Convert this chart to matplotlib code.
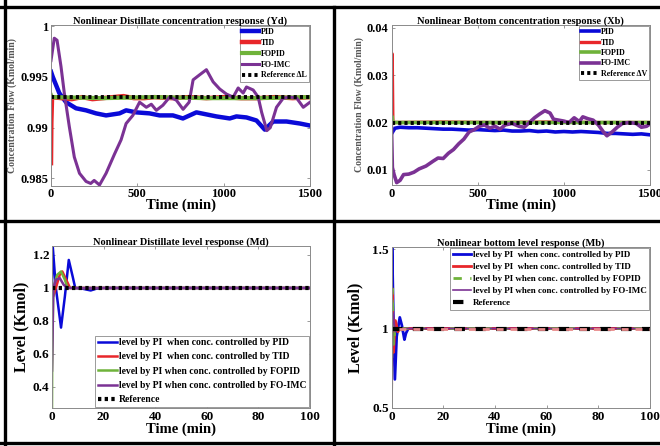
import matplotlib
matplotlib.use("Agg")
import matplotlib.pyplot as plt
from matplotlib.lines import Line2D
from matplotlib.ticker import FuncFormatter

plt.rcParams['font.family'] = ['Liberation Serif', 'DejaVu Serif']
plt.rcParams['font.weight'] = 'bold'

# ---------------- data: distillate concentration (Yd) ----------------
yd_pid_t = [0, 10, 48, 87, 145, 203, 261, 319, 397, 435, 493, 571, 629, 706, 764, 842, 900,
            958, 1035, 1074, 1132, 1190, 1238, 1287, 1364, 1442, 1500]
yd_pid_v = [0.9955, 0.9950, 0.9934, 0.9925, 0.9919, 0.9917, 0.9914, 0.9912, 0.9914, 0.9917,
            0.9915, 0.9914, 0.9912, 0.9912, 0.9909, 0.9915, 0.9913, 0.9911, 0.9909, 0.9911,
            0.9910, 0.9907, 0.9898, 0.9906, 0.9906, 0.9904, 0.9902]
yd_tid_t = [0, 2, 6, 60, 120, 180, 240, 300, 360, 420, 480, 540, 600, 700, 800, 900, 1000,
            1100, 1200, 1300, 1400, 1500]
yd_tid_v = [0.9865, 0.9905, 0.9930, 0.9929, 0.9928, 0.9930, 0.9928, 0.9929, 0.9930, 0.9931,
            0.9929, 0.9929, 0.9930, 0.9929, 0.9930, 0.9929, 0.9930, 0.9929, 0.9929, 0.9930,
            0.9929, 0.9930]
yd_fopid_t = [0, 5, 300, 600, 900, 1200, 1500]
yd_fopid_v = [0.9932, 0.9930, 0.9929, 0.9930, 0.9929, 0.9929, 0.9930]
yd_imc_t = [0, 19, 35, 58, 77, 106, 135, 165, 203, 230, 250, 281, 319, 368, 406, 435, 474,
            513, 552, 581, 610, 648, 687, 726, 765, 800, 823, 861, 900, 939, 977, 1016, 1055,
            1084, 1113, 1132, 1171, 1200, 1220, 1250, 1270, 1306, 1345, 1384, 1423, 1461, 1500]
yd_imc_v = [0.9966, 0.9988, 0.9986, 0.9960, 0.9934, 0.9901, 0.9871, 0.9855, 0.9847, 0.9845,
            0.9848, 0.98435, 0.9855, 0.9874, 0.9888, 0.9904, 0.9912, 0.9925, 0.9920, 0.9923,
            0.9917, 0.9922, 0.9930, 0.9927, 0.9918, 0.9925, 0.9947, 0.9952, 0.9957, 0.9945,
            0.9938, 0.9933, 0.9930, 0.9939, 0.9934, 0.9940, 0.9937, 0.9930, 0.9915, 0.9897,
            0.9900, 0.9920, 0.9929, 0.9930, 0.9929, 0.9920, 0.9925]
yd_ref = 0.993

# ---------------- data: bottom concentration (Xb) ----------------
xb_pid_t = [3, 20, 50, 100, 150, 200, 250, 300, 350, 400, 450, 500, 550, 600, 650, 700, 750,
            800, 850, 900, 950, 1000, 1050, 1100, 1150, 1200, 1250, 1300, 1350, 1400, 1450, 1500]
xb_pid_v = [0.0178, 0.0188, 0.0190, 0.0189, 0.0189, 0.0188, 0.0187, 0.0186, 0.0186, 0.0185,
            0.0184, 0.0185, 0.0184, 0.0183, 0.0184, 0.0182, 0.0182, 0.0183, 0.0181, 0.0182,
            0.0180, 0.0181, 0.0180, 0.0181, 0.0180, 0.0179, 0.0177, 0.0177, 0.0176, 0.0175,
            0.0176, 0.0174]
xb_tid_t = [0, 1, 4, 8, 300, 600, 900, 1200, 1500]
xb_tid_v = [0.0200, 0.0345, 0.0345, 0.0200, 0.0201, 0.0200, 0.0201, 0.0200, 0.0200]
xb_fopid_t = [0, 3, 8, 500, 1000, 1500]
xb_fopid_v = [0.0205, 0.0213, 0.0200, 0.0200, 0.0200, 0.0200]
xb_imc_t = [0, 5, 15, 30, 50, 70, 100, 130, 160, 200, 240, 270, 300, 330, 360, 390, 420, 450,
            480, 510, 540, 570, 600, 630, 660, 700, 740, 770, 800, 830, 860, 890, 920, 940,
            970, 1000, 1030, 1060, 1090, 1110, 1140, 1170, 1200, 1230, 1250, 1280, 1310, 1340,
            1380, 1420, 1450, 1480, 1500]
xb_imc_v = [0.0190, 0.0105, 0.0090, 0.0073, 0.0078, 0.0090, 0.0091, 0.0095, 0.0102, 0.0108,
            0.0118, 0.0125, 0.0124, 0.0135, 0.0143, 0.0155, 0.0165, 0.0180, 0.0185, 0.0192,
            0.0195, 0.0188, 0.0192, 0.0186, 0.0195, 0.0198, 0.0192, 0.0190, 0.0200, 0.0210,
            0.0218, 0.0225, 0.0220, 0.0207, 0.0205, 0.0203, 0.0200, 0.0210, 0.0202, 0.0212,
            0.0208, 0.0205, 0.0195, 0.0180, 0.0172, 0.0180, 0.0190, 0.0198, 0.0200, 0.0198,
            0.0190, 0.0192, 0.0197]
xb_ref = 0.02

# ---------------- data: distillate level (Md) ----------------
md_pid_t = [0, 0.3, 1.5, 3.5, 5, 6.5, 8, 9, 12, 15, 17, 20, 100]
md_pid_v = [1.0, 1.25, 1.0, 0.76, 0.95, 1.17, 1.07, 1.0, 0.995, 0.985, 0.995, 1.0, 1.0]
md_tid_t = [0, 0.5, 1.5, 3, 4, 5.5, 7, 100]
md_tid_v = [1.0, 0.95, 1.0, 1.08, 1.1, 1.05, 1.0, 1.0]
md_fopid_t = [0, 0.05, 0.5, 2, 3.5, 5, 6, 100]
md_fopid_v = [0.27, 0.5, 1.0, 1.08, 1.1, 1.05, 1.0, 1.0]
md_imc_t = [0, 0.5, 1.5, 3, 4.5, 6, 100]
md_imc_v = [0.5, 1.0, 1.05, 1.06, 1.02, 1.0, 1.0]
md_ref = 1.0

# ---------------- data: bottom level (Mb) ----------------
mb_pid_t = [0, 0.2, 0.7, 1.3, 2, 2.5, 3.2, 4, 5, 5.6, 6.5, 100]
mb_pid_v = [1.0, 1.55, 1.1, 0.68, 0.95, 1.0, 1.07, 1.02, 0.93, 0.97, 1.0, 1.0]
mb_tid_t = [0, 0.3, 0.8, 1.5, 2.5, 3, 100]
mb_tid_v = [0.5, 1.25, 0.85, 1.05, 0.98, 1.0, 1.0]
mb_fopid_t = [0, 0.3, 0.8, 1.5, 3, 100]
mb_fopid_v = [0.5, 1.25, 0.9, 1.02, 1.0, 1.0]
mb_imc_t = [0, 0.5, 1.5, 3, 100]
mb_imc_v = [0.5, 1.1, 0.98, 1.0, 1.0]
mb_ref = 1.0

lvl_labels = ["level by PI  when conc. controlled by PID",
              "level by PI  when conc. controlled by TID",
              "level by PI when conc. controlled by FOPID",
              "level by PI when conc. controlled by FO-IMC",
              "Reference"]

BLUE = '#0a0ad8'
RED = '#e8262a'
GREEN = '#6fb33a'
PURPLE = '#7b3294'
GRAY = '#8a8a8a'

W, H = 660, 446
fig = plt.figure(figsize=(6.6, 4.46), dpi=100)


def box(l, r, t, b):
    return [l / W, 1 - b / H, (r - l) / W, (b - t) / H]


def style(ax, xt, yt, xl, yl, tsize=9):
    ax.set_xlim(*xl)
    ax.set_ylim(*yl)
    ax.set_xticks(xt)
    ax.set_yticks(yt)
    ax.yaxis.set_major_formatter(FuncFormatter(lambda v, p: f"{v:g}"))
    ax.tick_params(direction='in', length=2.5, width=0.6, color=GRAY,
                   labelsize=tsize, top=True, right=True, pad=2)
    for s in ax.spines.values():
        s.set_color(GRAY)
        s.set_linewidth(0.7)
    for lab in ax.get_xticklabels() + ax.get_yticklabels():
        lab.set_fontweight('bold')


def legend(ax, handles, labels, loc, size, hl=2.2, sp=0.25):
    lg = ax.legend(handles, labels, loc=loc, fontsize=size, fancybox=False, framealpha=1,
                   edgecolor=GRAY, borderpad=0.25, labelspacing=sp, handlelength=hl,
                   handletextpad=0.2, borderaxespad=0.15)
    lg.get_frame().set_linewidth(0.6)
    return lg


# ---- top left ----
ax1 = fig.add_axes(box(51, 310, 25, 185.5))
ax1.plot(yd_pid_t, yd_pid_v, color=BLUE, lw=3.2)
ax1.plot(yd_tid_t, yd_tid_v, color=RED, lw=3.2)
ax1.plot(yd_fopid_t, yd_fopid_v, color=GREEN, lw=3.0)
ax1.plot(yd_imc_t, yd_imc_v, color=PURPLE, lw=2.2)
ax1.plot([0, 1500], [yd_ref, yd_ref], color='black', lw=2.8, ls=(0, (0.8, 0.8)))
style(ax1, [0, 500, 1000, 1500], [0.985, 0.99, 0.995, 1], (0, 1500), (0.9843, 1.0001))
ax1.set_title("Nonlinear Distillate concentration response (Yd)", fontsize=7.5,
              fontweight='bold', pad=1)
ax1.set_xlabel("Time (min)", fontsize=10.5, fontweight='bold', labelpad=-1)
ax1.set_ylabel("Concentration Flow (Kmol/min)", fontsize=7, fontweight='bold',
               color='#555555', labelpad=2)
legend(ax1, ax1.get_lines(), ["PID", "TID", "FOPID", "FO-IMC", "Reference \u0394L"],
       'upper right', 5.8, sp=0.35)

# ---- top right ----
ax2 = fig.add_axes(box(391.5, 650, 25, 185))
ax2.plot(xb_pid_t, xb_pid_v, color=BLUE, lw=2.6)
ax2.plot(xb_tid_t, xb_tid_v, color=RED, lw=2.4)
ax2.plot(xb_fopid_t, xb_fopid_v, color=GREEN, lw=2.6)
ax2.plot(xb_imc_t, xb_imc_v, color=PURPLE, lw=2.6)
ax2.plot([0, 1500], [xb_ref, xb_ref], color='black', lw=2.8, ls=(0, (0.8, 0.8)))
style(ax2, [0, 500, 1000, 1500], [0.01, 0.02, 0.03, 0.04], (0, 1500), (0.0068, 0.0406))
ax2.set_title("Nonlinear Bottom concentration response (Xb)", fontsize=7.5,
              fontweight='bold', pad=1)
ax2.set_xlabel("Time (min)", fontsize=10.5, fontweight='bold', labelpad=-1)
ax2.set_ylabel("Concentration Flow (Kmol/min)", fontsize=7, fontweight='bold',
               color='#555555', labelpad=2)
legend(ax2, ax2.get_lines(), ["PID", "TID", "FOPID", "FO-IMC", "Reference \u0394V"],
       'upper right', 5.8, sp=0.3)

# ---- bottom left ----
ax3 = fig.add_axes(box(52, 310, 246, 408))
ax3.plot(md_pid_t, md_pid_v, color=BLUE, lw=1.8)
ax3.plot(md_tid_t, md_tid_v, color=RED, lw=1.8)
ax3.plot(md_fopid_t, md_fopid_v, color=GREEN, lw=1.8)
ax3.plot(md_imc_t, md_imc_v, color=PURPLE, lw=1.8)
ax3.plot([0, 100], [md_ref, md_ref], color='black', lw=3.0, ls=(0, (0.8, 0.8)))
style(ax3, [0, 20, 40, 60, 80, 100], [0.4, 0.6, 0.8, 1, 1.2], (0, 100), (0.2727, 1.2545),
      tsize=9.5)
ax3.set_title("Nonlinear Distillate level response (Md)", fontsize=7.5,
              fontweight='bold', pad=1)
ax3.set_xlabel("Time (min)", fontsize=10.5, fontweight='bold', labelpad=0)
ax3.set_ylabel("Level (Kmol)", fontsize=11.5, fontweight='bold', labelpad=2)
legend(ax3, ax3.get_lines(), lvl_labels, 'lower right', 6.9, hl=2.0, sp=0.55)

# ---- bottom right ----
ax4 = fig.add_axes(box(391.5, 650, 247, 408))
ax4.plot(mb_pid_t, mb_pid_v, color=BLUE, lw=2.0)
ax4.plot(mb_tid_t, mb_tid_v, color=RED, lw=2.0)
ax4.plot(mb_fopid_t, mb_fopid_v, color=GREEN, lw=2.0, ls=(0, (3, 3)))
ax4.plot(mb_imc_t, mb_imc_v, color=PURPLE, lw=1.2)
ax4.plot([0, 100], [mb_ref, mb_ref], color='black', lw=3.0, ls=(0, (2.5, 2.5)))
# pinkish dashes visible between reference dashes
ax4.plot([0, 100], [mb_ref, mb_ref], color='#e88a8a', lw=2.0, ls=(2.5, (2.5, 2.5)))
style(ax4, [0, 20, 40, 60, 80, 100], [0.5, 1, 1.5], (0, 100), (0.5, 1.5126), tsize=9.5)
ax4.set_title("Nonlinear bottom level response (Mb)", fontsize=7.5,
              fontweight='bold', pad=1)
ax4.set_xlabel("Time (min)", fontsize=10.5, fontweight='bold', labelpad=0)
ax4.set_ylabel("Level (Kmol)", fontsize=11.5, fontweight='bold', labelpad=6)
legend(ax4, ax4.get_lines()[:5], lvl_labels, 'upper right', 6.5, hl=2.0, sp=0.42)

# ---- panel frames ----
for xs, ys in [([5 / W, 5 / W], [0, 1]),
               ([0, 1], [1 - 7 / H, 1 - 7 / H]),
               ([0, 1], [1 - 443 / H, 1 - 443 / H]),
               ([0, 1], [1 - 221 / H, 1 - 221 / H]),
               ([334 / W, 334 / W], [0, 1 - 7 / H])]:
    fig.add_artist(Line2D(xs, ys, color='black', lw=2.4, transform=fig.transFigure))

fig.savefig("out.png", dpi=100)
